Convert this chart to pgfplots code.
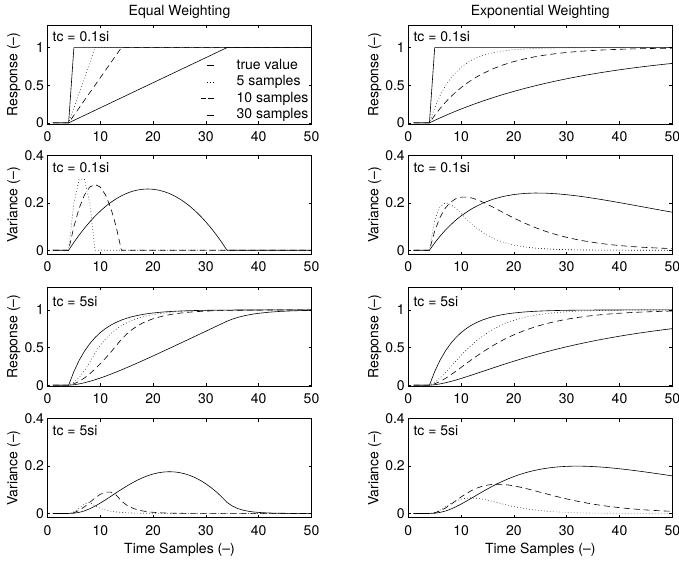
\documentclass[border=0pt]{standalone}
\usepackage{fontspec}
\setmainfont{TeX Gyre Heros}
\usepackage{pgfplots}
\pgfplotsset{compat=1.18}
\newcommand\fs{\fontsize{14}{16.5}\selectfont}
\pgfplotsset{
  base/.style={
    scale only axis, width=264pt, height=99pt, anchor=north west,
    xmin=0, xmax=50, xtick={0,10,20,30,40,50},
    tick align=inside, major tick length=3pt,
    axis line style={line width=0.6pt},
    every tick/.style={black, line width=0.5pt},
    /pgf/number format/assume math mode=true,
    tick label style={font=\fs},
    xticklabel style={yshift=-4pt},
    every axis title/.style={at={(0.5,1.101)}, anchor=base, font=\fs},
    every axis x label/.style={at={(0.5,-0.3606)}, anchor=base, font=\fs},
    every axis y label/.style={at={(-0.11364,0.5)}, anchor=base, rotate=90, font=\fs},
  },
  resp/.style={ymin=-0.015, ymax=1.3, ytick={0,0.5,1}, ylabel={Response (\textendash)}},
  vari/.style={ymin=-0.018, ymax=0.4, ytick={0,0.2,0.4}, ylabel={Variance (\textendash)}},
  limg/.style={legend image code/.code={\draw[##1] (0pt,0pt) -- (7pt,0pt);}},
  limgd/.style={legend image code/.code={\draw[##1, dash pattern=on 5.5pt off 2pt] (-6pt,0pt) -- (7pt,0pt);}},
  tv/.style={black, line width=0.6pt, limg},
  s5/.style={black, line width=0.6pt, dash pattern=on 0.6pt off 2.4pt, limg},
  s10/.style={black, line width=0.6pt, dash pattern=on 6pt off 4pt, limgd},
  s30/.style={black, line width=0.6pt, limg},
}
\tikzset{tclab/.style={anchor=base west, inner sep=0pt, xshift=5pt, yshift=-16.5pt, font=\fs}}
\begin{document}
\begin{tikzpicture}
% ---------------- Row 1 left
\begin{axis}[base, resp, at={(47.5pt,-25pt)}, title={Equal Weighting},
  every axis legend/.style={draw=none, fill=none, at={(1,0.674)}, anchor=north east,
    xshift=-1.5pt, inner sep=0pt, cells={anchor=west}, column sep=21pt,
    nodes={font=\fs, inner sep=1.5pt, text height=10.5pt, text depth=3pt}}]
\addplot[tv] coordinates {(1,0)(4,0)(5,1)(50,1)};
\addlegendentry{\fs true value}
\addplot[s5] coordinates {(1,0)(4,0)(9,1)(50,1)};
\addlegendentry{\fs 5 samples}
\addplot[s10] coordinates {(1,0)(4,0)(14,1)(50,1)};
\addlegendentry{\fs 10 samples}
\addplot[s30] coordinates {(1,0)(4,0)(34,1)(50,1)};
\addlegendentry{\fs 30 samples}
\node[tclab] at (rel axis cs:0,1) {tc = 0.1si};
\end{axis}
% ---------------- Row 1 right
\begin{axis}[base, resp, at={(408.3pt,-25pt)}, title={Exponential Weighting}]
\addplot[tv] coordinates {(1,0)(4,0)(5,1)(50,1)};
\addplot[s5] coordinates {(1,0)(4,0)(5,.2)(6,.36)(7,.488)(8,.5904)(9,.67232)(10,.73786)(11,.79028)(12,.83223)(13,.86578)(14,.89263)(15,.9141)(16,.93128)(17,.94502)(18,.95602)(19,.96482)(20,.97185)(22,.98199)(24,.98847)(26,.99262)(28,.99528)(30,.99698)(32,.99807)(34,.99876)(38,.9995)(44,.99987)(50,.99997)};
\addplot[s10] coordinates {(1,0)(4,0)(5,.1)(6,.19)(7,.271)(8,.3439)(9,.40951)(10,.46856)(11,.5217)(12,.56953)(13,.61258)(14,.65132)(16,.71757)(18,.77123)(20,.8147)(22,.84991)(24,.87842)(26,.90152)(28,.92023)(30,.93539)(32,.94767)(34,.95761)(36,.96566)(38,.97219)(40,.97747)(42,.98175)(44,.98522)(46,.98803)(48,.9903)(50,.99214)};
\addplot[s30] coordinates {(1,0)(4,0)(5,.03333)(6,.06556)(7,.0967)(8,.12681)(9,.15592)(10,.18405)(12,.23755)(14,.28754)(16,.33425)(18,.37791)(20,.4187)(22,.45682)(24,.49244)(26,.52572)(28,.55682)(30,.58588)(32,.61304)(34,.63841)(36,.66212)(38,.68428)(40,.70498)(42,.72433)(44,.7424)(46,.75929)(48,.77508)(50,.78983)};
\node[tclab] at (rel axis cs:0,1) {tc = 0.1si};
\end{axis}
% ---------------- Row 2 left
\begin{axis}[base, vari, at={(47.5pt,-155.5pt)}]
\addplot[s5] coordinates {(1,0)(4,0)(5,.2)(6,.3)(7,.3)(8,.2)(9,0)(50,0)};
\addplot[s10] coordinates {(1,0)(4,0)(5,.1)(6,.1778)(7,.2333)(8,.2667)(9,.2778)(10,.2667)(11,.2333)(12,.1778)(13,.1)(14,0)(50,0)};
\addplot[s30] coordinates {(1,0)(4,0)(5,.0333)(6,.0644)(7,.0931)(8,.1195)(9,.1437)(10,.1655)(11,.1851)(12,.2023)(13,.2172)(14,.2299)(15,.2402)(16,.2483)(17,.2540)(18,.2575)(19,.2586)(20,.2575)(21,.2540)(22,.2483)(23,.2402)(24,.2299)(25,.2172)(26,.2023)(27,.1851)(28,.1655)(29,.1437)(30,.1195)(31,.0931)(32,.0644)(33,.0333)(34,0)(50,0)};
\node[tclab] at (rel axis cs:0,1) {tc = 0.1si};
\end{axis}
% ---------------- Row 2 right
\begin{axis}[base, vari, at={(408.3pt,-155.5pt)}]
\addplot[s5] coordinates {(1,0)(4,0)(5,.128)(6,.18432)(7,.19988)(8,.19346)(9,.17625)(10,.15474)(11,.13259)(12,.1117)(13,.09296)(14,.07667)(15,.06282)(16,.0512)(17,.04157)(18,.03364)(19,.02715)(20,.02189)(22,.01415)(24,.00912)(26,.00586)(28,.00376)(30,.00241)(32,.00154)(34,.00099)(38,.0004)(44,.0001)(50,.00002)};
\addplot[s10] coordinates {(1,0)(4,0)(5,.081)(6,.13851)(7,.1778)(8,.20307)(9,.21763)(10,.22411)(11,.22458)(12,.22065)(13,.21359)(14,.20439)(16,.1824)(18,.15879)(20,.13587)(22,.11481)(24,.09612)(26,.0799)(28,.06607)(30,.05439)(32,.04463)(34,.03653)(36,.02985)(38,.02433)(40,.01982)(42,.01613)(44,.01311)(46,.01064)(48,.00865)(50,.00702)};
\addplot[s30] coordinates {(1,0)(4,0)(5,.03115)(6,.05922)(7,.08444)(8,.10704)(9,.12722)(10,.14517)(12,.17509)(14,.19803)(16,.21511)(18,.22726)(20,.23528)(22,.23987)(24,.24161)(26,.24103)(28,.23855)(30,.23454)(32,.22932)(34,.22315)(36,.21626)(38,.20884)(40,.20105)(42,.19302)(44,.18487)(46,.17668)(48,.16852)(50,.16047)};
\node[tclab] at (rel axis cs:0,1) {tc = 0.1si};
\end{axis}
% ---------------- Row 3 left
\begin{axis}[base, resp, at={(47.5pt,-287.3pt)}]
\addplot[tv] coordinates {(1,0)(4,0)(5,.18127)(6,.32968)(7,.45119)(8,.55067)(9,.63212)(10,.69881)(11,.7534)(12,.7981)(13,.8347)(14,.86466)(15,.8892)(16,.90928)(17,.92573)(18,.93919)(19,.95021)(20,.95924)(22,.97268)(24,.98168)(26,.98772)(28,.99177)(30,.99448)(32,.9963)(34,.99752)(38,.99889)(42,.9995)(46,.99977)(50,.9999)};
\addplot[s5] coordinates {(1,0)(4,0)(5,.03625)(6,.10218)(7,.19242)(8,.30256)(9,.42897)(10,.53248)(11,.61722)(12,.68661)(13,.74342)(14,.78993)(15,.82801)(16,.85918)(17,.88471)(18,.90561)(19,.92272)(20,.93673)(22,.95759)(24,.97157)(26,.98095)(28,.98722)(30,.99143)(34,.99615)(40,.99884)(50,.9999)};
\addplot[s10] coordinates {(1,0)(4,0)(5,.01813)(6,.05109)(7,.09621)(8,.15128)(9,.21449)(10,.28437)(11,.35971)(12,.43952)(13,.52299)(14,.60947)(15,.68026)(16,.73822)(17,.78567)(18,.82452)(19,.85633)(20,.88237)(22,.92115)(24,.94715)(26,.96457)(28,.97625)(30,.98408)(32,.98933)(34,.99285)(38,.99679)(44,.99903)(50,.99964)};
\addplot[s30] coordinates {(1,0)(4,0)(5,.00604)(6,.01703)(7,.03207)(8,.05043)(9,.0715)(10,.09479)(11,.1199)(12,.14651)(13,.17433)(14,.20315)(15,.23279)(16,.2631)(17,.29396)(18,.32527)(19,.35694)(20,.38891)(22,.45356)(24,.51887)(26,.58462)(28,.65068)(30,.71694)(32,.78333)(33,.81657)(34,.84982)(35,.87704)(36,.89933)(37,.91758)(38,.93252)(39,.94475)(40,.95477)(42,.96968)(44,.97968)(46,.98638)(48,.99087)(50,.99388)};
\node[tclab, yshift=-2.8pt] at (rel axis cs:0,1) {tc = 5si};
\end{axis}
% ---------------- Row 3 right
\begin{axis}[base, resp, at={(408.3pt,-287.3pt)}]
\addplot[tv] coordinates {(1,0)(4,0)(5,.18127)(6,.32968)(7,.45119)(8,.55067)(9,.63212)(10,.69881)(11,.7534)(12,.7981)(13,.8347)(14,.86466)(15,.8892)(16,.90928)(17,.92573)(18,.93919)(19,.95021)(20,.95924)(22,.97268)(24,.98168)(26,.98772)(28,.99177)(30,.99448)(32,.9963)(34,.99752)(38,.99889)(42,.9995)(46,.99977)(50,.9999)};
\addplot[s5] coordinates {(1,0)(4,0)(5,.03625)(6,.09494)(7,.16619)(8,.24308)(9,.32088)(10,.39646)(11,.46785)(12,.5339)(13,.59406)(14,.64818)(15,.69638)(16,.73896)(17,.77632)(18,.8089)(19,.83716)(20,.86158)(21,.88259)(22,.90061)(23,.91602)(24,.92916)(26,.9498)(28,.96461)(30,.97517)(32,.98265)(34,.98791)(36,.99161)(38,.9942)(40,.99599)(42,.99724)(44,.9981)(46,.99869)(48,.9991)(50,.99939)};
\addplot[s10] coordinates {(1,0)(4,0)(5,.01813)(6,.04929)(7,.08948)(8,.1356)(9,.18525)(10,.23661)(11,.28829)(12,.33927)(13,.38881)(14,.4364)(15,.48168)(16,.52444)(17,.56457)(18,.60203)(19,.63685)(20,.66909)(22,.72623)(24,.7744)(26,.81468)(28,.84817)(30,.87586)(32,.89867)(34,.9174)(36,.93274)(38,.94529)(40,.95553)(42,.96388)(44,.97068)(46,.9762)(48,.98068)(50,.98433)};
\addplot[s30] coordinates {(1,0)(4,0)(5,.00604)(6,.01683)(7,.0313)(8,.04861)(9,.06807)(10,.08908)(12,.13414)(14,.18108)(16,.22817)(18,.27437)(20,.31898)(22,.36165)(24,.40219)(26,.4405)(28,.47658)(30,.5105)(32,.54233)(34,.57216)(36,.6001)(38,.62624)(40,.6507)(42,.67357)(44,.69494)(46,.71492)(48,.73361)(50,.75108)};
\node[tclab, yshift=-2.8pt] at (rel axis cs:0,1) {tc = 5si};
\end{axis}
% ---------------- Row 4 left
\begin{axis}[base, vari, at={(47.5pt,-418.7pt)}, xlabel={Time Samples (\textendash)}]
\addplot[s5] coordinates {(1,0)(4,0)(5,.00657)(6,.02233)(7,.03999)(8,.04766)(9,.03195)(10,.02141)(11,.01435)(12,.00962)(13,.00645)(14,.00432)(16,.00194)(18,.00087)(22,.00018)(28,.00001)(50,0)};
\addplot[s10] coordinates {(1,0)(4,0)(5,.00329)(6,.01283)(7,.02806)(8,.04661)(9,.06532)(10,.08084)(11,.08999)(12,.08989)(13,.07803)(14,.05231)(15,.03506)(16,.0235)(17,.01575)(18,.01056)(19,.00708)(20,.00475)(22,.00213)(24,.00096)(28,.00019)(34,.00002)(50,0)};
\addplot[s30] coordinates {(1,0)(4,0)(5,.0011)(6,.00458)(7,.01084)(8,.01973)(9,.03085)(10,.04368)(11,.05768)(12,.07231)(13,.0871)(14,.10162)(15,.11552)(16,.12848)(17,.14025)(18,.15061)(19,.1594)(20,.16645)(21,.17167)(22,.17496)(23,.17624)(24,.17545)(25,.17254)(26,.16748)(27,.16023)(28,.15077)(29,.13909)(30,.12515)(31,.10897)(32,.09051)(33,.06978)(34,.04678)(35,.03136)(36,.02102)(37,.01409)(38,.00944)(39,.00633)(40,.00424)(42,.00191)(44,.00086)(46,.00039)(50,.00008)};
\node[tclab] at (rel axis cs:0,1) {tc = 5si};
\end{axis}
% ---------------- Row 4 right
\begin{axis}[base, vari, at={(408.3pt,-418.7pt)}, xlabel={Time Samples (\textendash)}]
\addplot[s5] coordinates {(1,0)(4,0)(5,.00421)(6,.01439)(7,.02776)(8,.04113)(9,.05227)(10,.0601)(11,.06439)(12,.06547)(13,.06396)(14,.06054)(15,.05587)(16,.0505)(17,.04486)(18,.03929)(19,.03399)(20,.0291)(21,.02469)(22,.02079)(23,.01739)(24,.01446)(26,.00987)(28,.00664)(30,.00441)(32,.0029)(34,.0019)(38,.0008)(44,.0002)(50,.00005)};
\addplot[s10] coordinates {(1,0)(4,0)(5,.00266)(6,.01025)(7,.02231)(8,.03731)(9,.05355)(10,.06956)(11,.08423)(12,.09686)(13,.10705)(14,.11469)(15,.11983)(16,.12266)(17,.12343)(18,.12246)(19,.12003)(20,.11645)(21,.11198)(22,.10685)(23,.10129)(24,.09546)(26,.08354)(28,.07197)(30,.06124)(32,.0516)(34,.04314)(36,.03585)(38,.02965)(40,.02442)(42,.02006)(44,.01642)(46,.01343)(48,.01097)(50,.00893)};
\addplot[s30] coordinates {(1,0)(4,0)(5,.00102)(6,.00425)(7,.00999)(8,.01806)(9,.02806)(10,.03952)(11,.05195)(12,.06491)(13,.07803)(14,.09101)(15,.10359)(16,.1156)(17,.12691)(18,.13741)(19,.14706)(20,.15582)(21,.16369)(22,.17068)(23,.17681)(24,.18211)(25,.18662)(26,.19038)(27,.19344)(28,.19584)(29,.19763)(30,.19885)(31,.19955)(32,.19976)(33,.19954)(34,.19892)(35,.19794)(36,.19663)(37,.19502)(38,.19315)(39,.19104)(40,.18873)(42,.18356)(44,.17782)(46,.17166)(48,.16522)(50,.15858)};
\node[tclab] at (rel axis cs:0,1) {tc = 5si};
\end{axis}
\pgfresetboundingbox
\useasboundingbox (0pt,0pt) rectangle (679pt,-563pt);
\end{tikzpicture}
\end{document}
